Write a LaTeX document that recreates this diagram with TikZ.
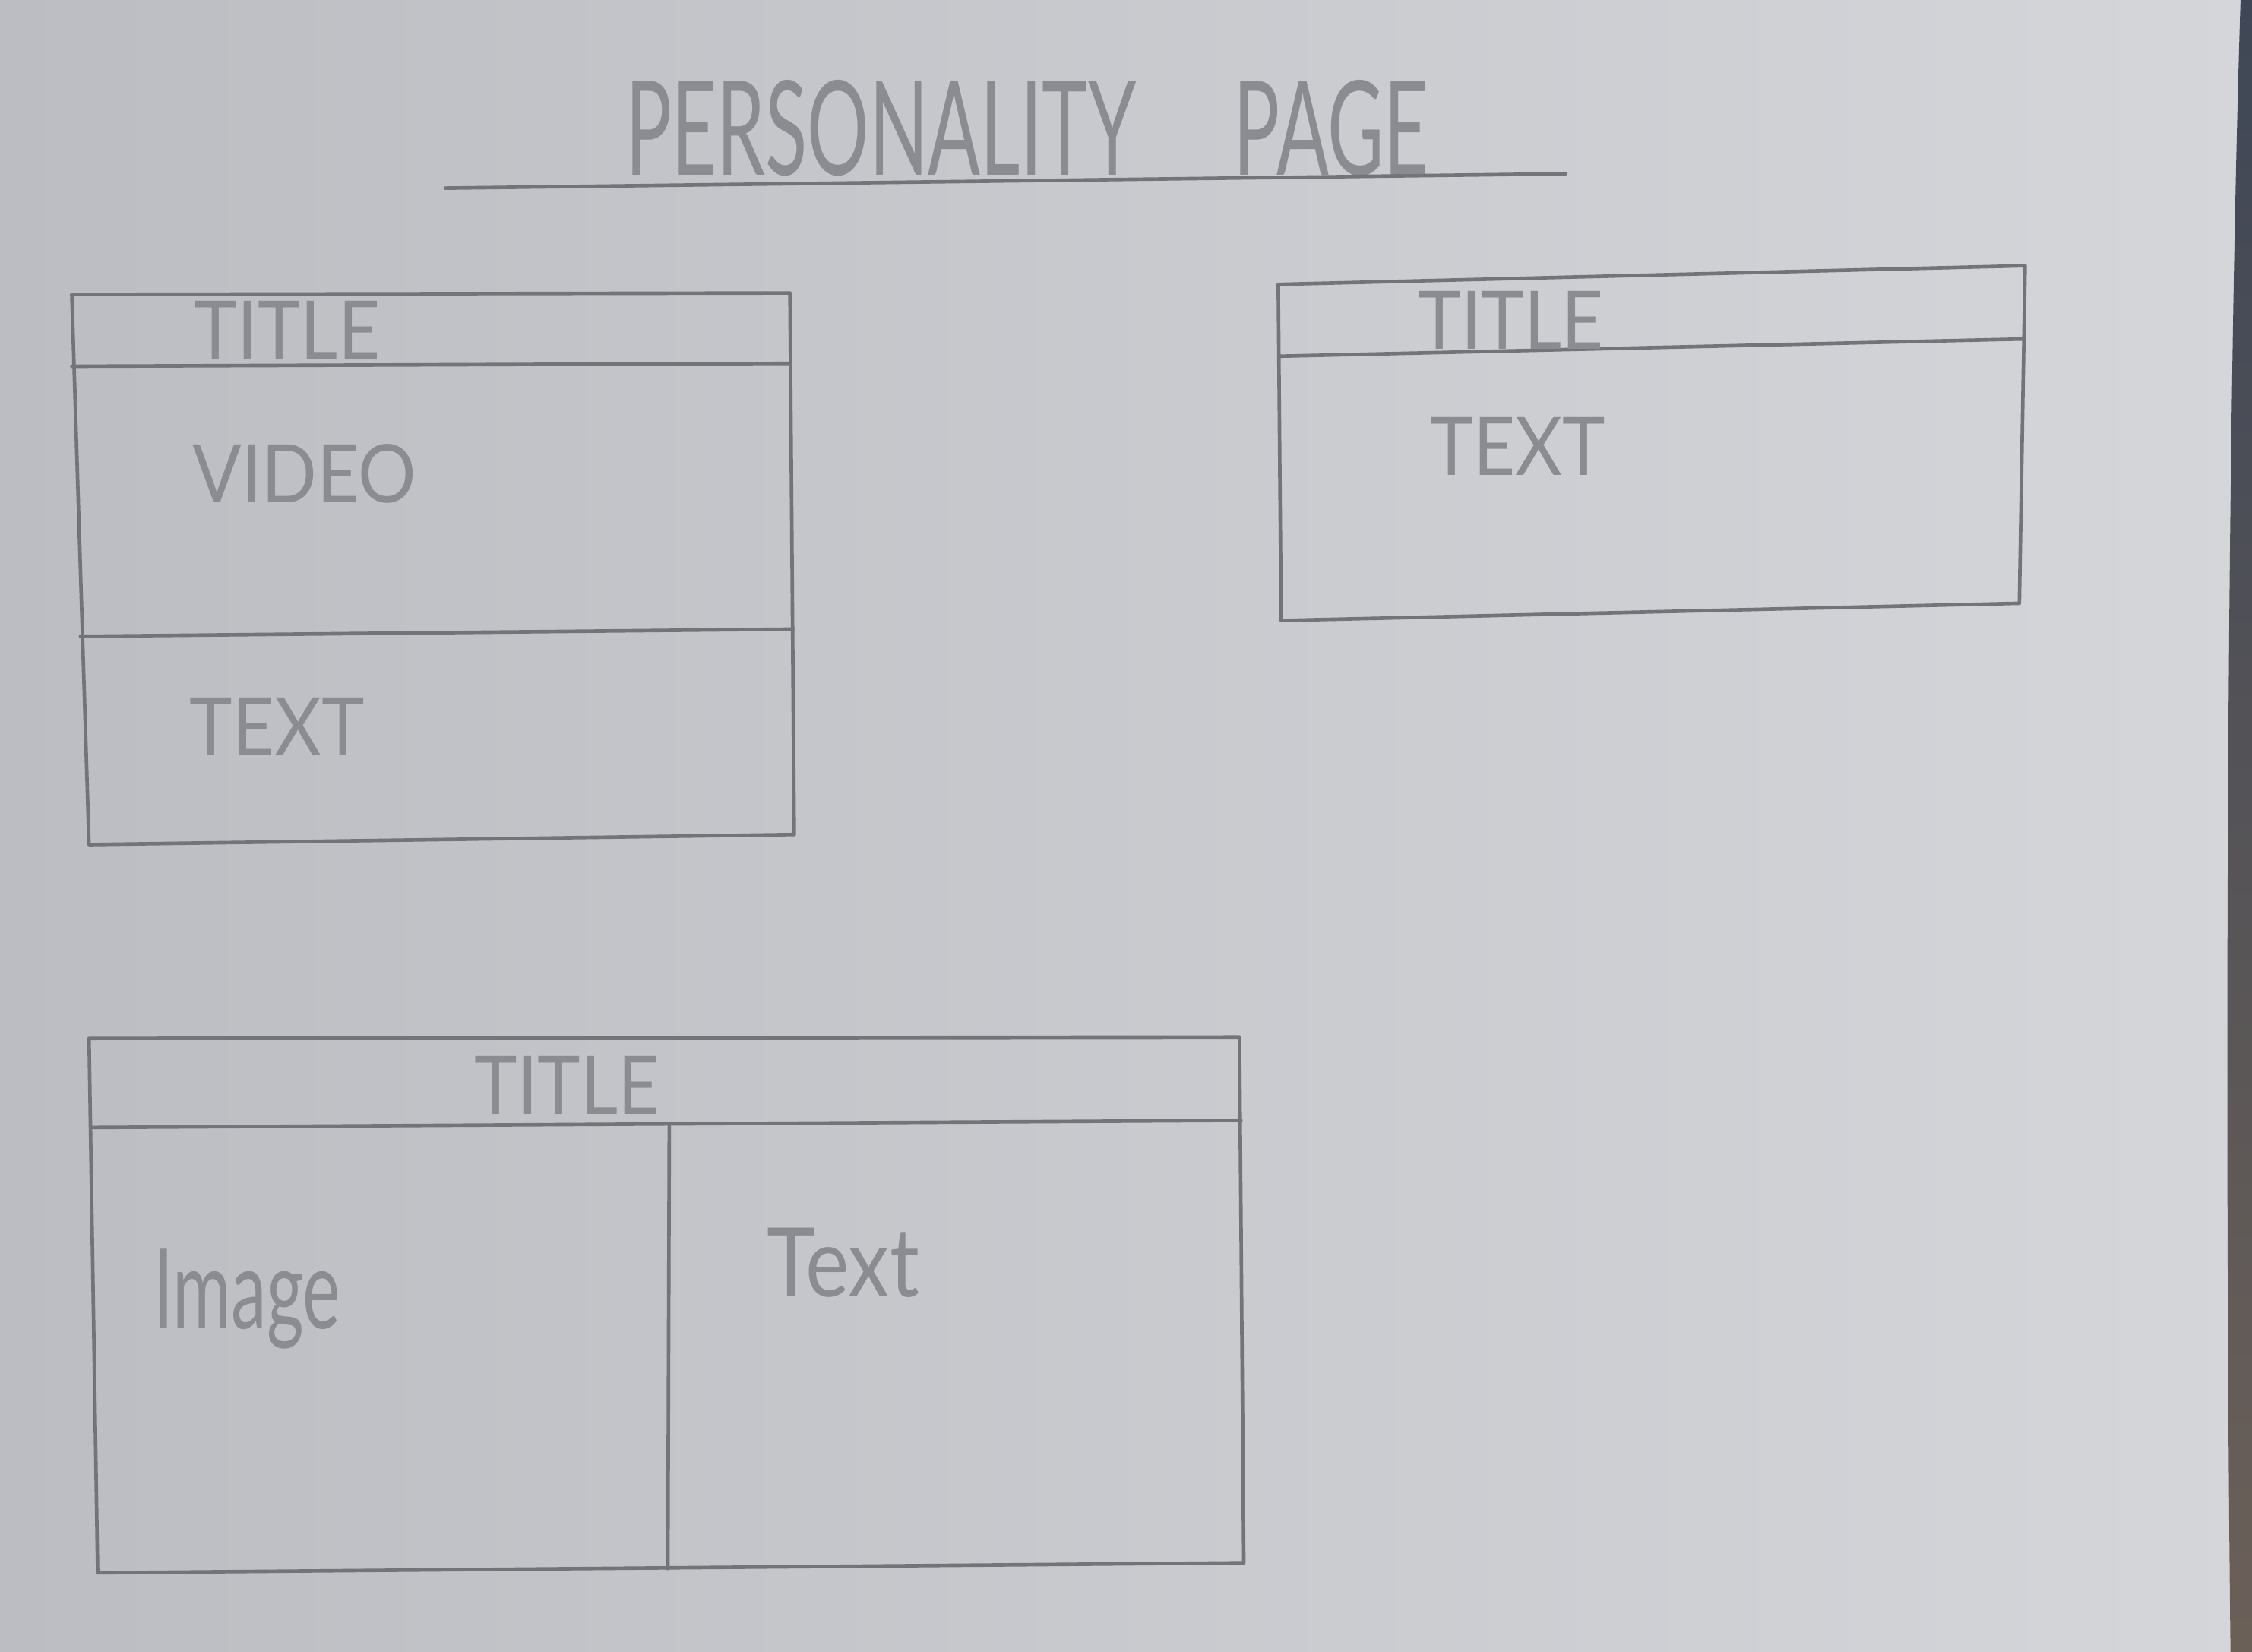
\documentclass[tikz,border=0pt]{standalone}
\usepackage{fontspec}
\setmainfont{Lato}
\definecolor{papel}{HTML}{BBBDC2}
\definecolor{papelclaro}{HTML}{D5D6DA}
\definecolor{lapiz}{HTML}{72747A}
\definecolor{letra}{HTML}{8A8C92}
\definecolor{mesaazul}{HTML}{3F4756}
\definecolor{mesabeige}{HTML}{A6A397}
\definecolor{mesamarron}{HTML}{6B6058}

\begin{document}
\begin{tikzpicture}[line cap=round, line join=round,
  trazo/.style={lapiz, line width=0.7pt},
  rotulo/.style={text=letra, anchor=base, inner sep=0pt, font=\fontsize{16}{18}\selectfont, xscale=0.9},
  manuscrito/.style={text=letra, anchor=base, inner sep=0pt}]
  \useasboundingbox (0,0) rectangle (15.68,-11.50);

  % Hoja de papel
  \shade[left color=papel, right color=papelclaro] (0,0) rectangle (15.68,-11.50);
  \shade[top color=mesaazul, middle color=mesabeige, bottom color=mesamarron]
    (15.60,0) .. controls (15.52,-2.5) and (15.48,-7) .. (15.53,-11.50) -- (15.68,-11.50) -- (15.68,0) -- cycle;

  % Titulo de la pagina
  \node[manuscrito, anchor=base west, font=\fontsize{26}{28}\selectfont, xscale=0.59] (titulo) at (4.35,-1.22) {PERSONALITY\hspace{1.15cm}PAGE};
  \draw[trazo] (3.10,-1.31) -- (10.90,-1.21);

  % Bloque video + texto
  \draw[trazo] (0.50,-2.05) -- (5.50,-2.04) -- (5.53,-5.81) -- (0.62,-5.88) -- cycle;
  \draw[trazo] (0.50,-2.55) -- (5.50,-2.53);
  \draw[trazo] (0.56,-4.43) -- (5.52,-4.38);
  \node[rotulo] (titulo1) at (2.00,-2.50) {TITLE};
  \node[rotulo] (video) at (2.12,-3.50) {VIDEO};
  \node[rotulo] (texto1) at (1.93,-5.26) {TEXT};

  % Bloque solo texto
  \draw[trazo] (8.90,-1.98) -- (14.10,-1.85) -- (14.06,-4.20) -- (8.92,-4.32) -- cycle;
  \draw[trazo] (8.91,-2.48) -- (14.09,-2.36);
  \node[rotulo] (titulo2) at (10.52,-2.43) {TITLE};
  \node[rotulo] (texto2) at (10.57,-3.31) {TEXT};

  % Bloque imagen + texto
  \draw[trazo] (0.62,-7.23) -- (8.63,-7.22) -- (8.66,-10.88) -- (0.68,-10.95) -- cycle;
  \draw[trazo] (0.63,-7.85) -- (8.64,-7.80);
  \draw[trazo] (4.66,-7.83) -- (4.65,-10.92);
  \node[rotulo] (titulo3) at (3.95,-7.76) {TITLE};
  \node[manuscrito, font=\fontsize{22}{24}\selectfont, xscale=0.64] (imagen) at (1.72,-9.25) {Image};
  \node[manuscrito, font=\fontsize{19}{21}\selectfont, xscale=0.86] (texto3) at (5.87,-9.03) {Text};
\end{tikzpicture}
\end{document}
